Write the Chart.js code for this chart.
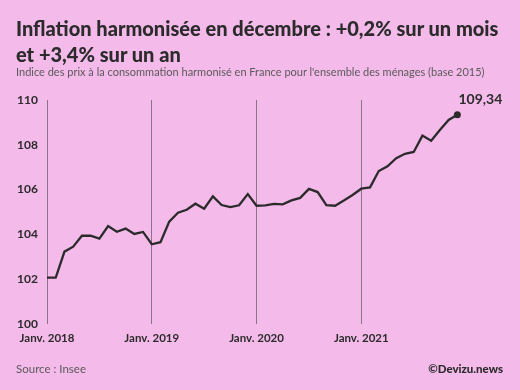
<!DOCTYPE html>
<html lang="fr">
<head>
<meta charset="utf-8">
<script src="https://cdn.jsdelivr.net/npm/chart.js@4"></script>
<style>
    html, body {
        margin: 0;
        padding: 0;
        background: #f4baea;
    }
    .wrap {
        position: relative;
        width: 520px;
        height: 390px;
        overflow: hidden;
        font-family: 'Lato', sans-serif;
    }
    #chart {
        position: absolute;
        left: 0;
        top: 0;
    }
    .title {
        position: absolute;
        left: 16px;
        top: 15px;
        width: 504px;
        font-size: 20px;
        line-height: 26px;
        font-weight: 900;
        color: #2b2b2b;
        white-space: nowrap;
    }
    .subtitle {
        position: absolute;
        left: 16px;
        top: 65px;
        font-size: 11px;
        color: #5a5a5a;
    }
    .source {
        position: absolute;
        left: 16px;
        top: 362px;
        font-size: 11.5px;
        color: #5a5a5a;
    }
    .brand {
        position: absolute;
        right: 17px;
        top: 362px;
        font-size: 11.5px;
        font-weight: 900;
        color: #2b2b2b;
    }
</style>
</head>
<body>
<div class="wrap">
    <canvas id="chart" width="520" height="390"></canvas>
    <div class="title">Inflation harmonisée en décembre : +0,2% sur un mois<br>et +3,4% sur un an</div>
    <div class="subtitle">Indice des prix à la consommation harmonisé en France pour l'ensemble des ménages (base 2015)</div>
    <div class="source">Source : Insee</div>
    <div class="brand">©Devizu.news</div>
</div>
<script>
    // Indice mensuel, janvier 2018 -> décembre 2021
    const months = [
        'janv. 2018', 'févr. 2018', 'mars 2018', 'avr. 2018', 'mai 2018', 'juin 2018',
        'juil. 2018', 'août 2018', 'sept. 2018', 'oct. 2018', 'nov. 2018', 'déc. 2018',
        'janv. 2019', 'févr. 2019', 'mars 2019', 'avr. 2019', 'mai 2019', 'juin 2019',
        'juil. 2019', 'août 2019', 'sept. 2019', 'oct. 2019', 'nov. 2019', 'déc. 2019',
        'janv. 2020', 'févr. 2020', 'mars 2020', 'avr. 2020', 'mai 2020', 'juin 2020',
        'juil. 2020', 'août 2020', 'sept. 2020', 'oct. 2020', 'nov. 2020', 'déc. 2020',
        'janv. 2021', 'févr. 2021', 'mars 2021', 'avr. 2021', 'mai 2021', 'juin 2021',
        'juil. 2021', 'août 2021', 'sept. 2021', 'oct. 2021', 'nov. 2021', 'déc. 2021'
    ];
    const indexValues = [
        102.07, 102.07, 103.23, 103.45, 103.94, 103.94, 103.81, 104.37, 104.12, 104.26, 104.02, 104.11,
        103.56, 103.65, 104.57, 104.97, 105.10, 105.37, 105.15, 105.70, 105.31, 105.22, 105.30, 105.80,
        105.28, 105.30, 105.36, 105.34, 105.52, 105.63, 106.03, 105.89, 105.31, 105.28, 105.51, 105.76,
        106.04, 106.10, 106.83, 107.04, 107.40, 107.60, 107.68, 108.41, 108.18, 108.66, 109.11, 109.34
    ];
    const yearTicks = [0, 12, 24, 36];
    const yearLabels = ['Janv. 2018', 'Janv. 2019', 'Janv. 2020', 'Janv. 2021'];
    const lastLabel = '109,34';

    const points = indexValues.map((v, i) => ({x: i, y: v}));
    const lastIndex = points.length - 1;

    // Etiquette de la dernière valeur
    const lastValuePlugin = {
        id: 'lastValuePlugin',
        afterDatasetsDraw(chart) {
            const ctx = chart.ctx;
            const px = chart.scales.x.getPixelForValue(points[lastIndex].x);
            const py = chart.scales.y.getPixelForValue(points[lastIndex].y);
            ctx.save();
            ctx.font = "bold 14px 'Lato', sans-serif";
            ctx.fillStyle = '#2b2b2b';
            ctx.textAlign = 'center';
            ctx.textBaseline = 'middle';
            ctx.fillText(lastLabel, px + 23, py - 15);
            ctx.restore();
        }
    };

    new Chart(document.getElementById('chart'), {
        type: 'line',
        data: {
            labels: months,
            datasets: [{
                data: points,
                borderColor: '#2b2b2b',
                borderWidth: 2.3,
                tension: 0,
                fill: false,
                pointRadius: ctx => ctx.dataIndex === lastIndex ? 3.5 : 0,
                pointBackgroundColor: '#2b2b2b',
                pointBorderWidth: 0
            }]
        },
        options: {
            responsive: false,
            animation: false,
            layout: {
                padding: {left: 17, right: 19, top: 100, bottom: 46}
            },
            plugins: {
                legend: {display: false},
                tooltip: {enabled: false}
            },
            scales: {
                x: {
                    type: 'linear',
                    min: 0,
                    max: 52,
                    afterBuildTicks: scale => {
                        scale.ticks = yearTicks.map(v => ({value: v}));
                    },
                    afterFit: scale => {
                        scale.height = 20;
                    },
                    grid: {
                        color: '#8a7488',
                        lineWidth: 1,
                        drawTicks: false
                    },
                    border: {display: false},
                    ticks: {
                        autoSkip: false,
                        maxRotation: 0,
                        padding: 7,
                        color: '#2b2b2b',
                        font: {family: "'Lato', sans-serif", size: 11.5, weight: 'bold'},
                        callback: value => yearLabels[yearTicks.indexOf(value)]
                    }
                },
                y: {
                    min: 100,
                    max: 110,
                    afterFit: scale => {
                        scale.width = 30;
                    },
                    grid: {display: false},
                    border: {display: false},
                    ticks: {
                        stepSize: 2,
                        crossAlign: 'far',
                        padding: 0,
                        color: '#2b2b2b',
                        font: {family: "'Lato', sans-serif", size: 12, weight: 'bold'}
                    }
                }
            }
        },
        plugins: [lastValuePlugin]
    });
</script>
</body>
</html>
